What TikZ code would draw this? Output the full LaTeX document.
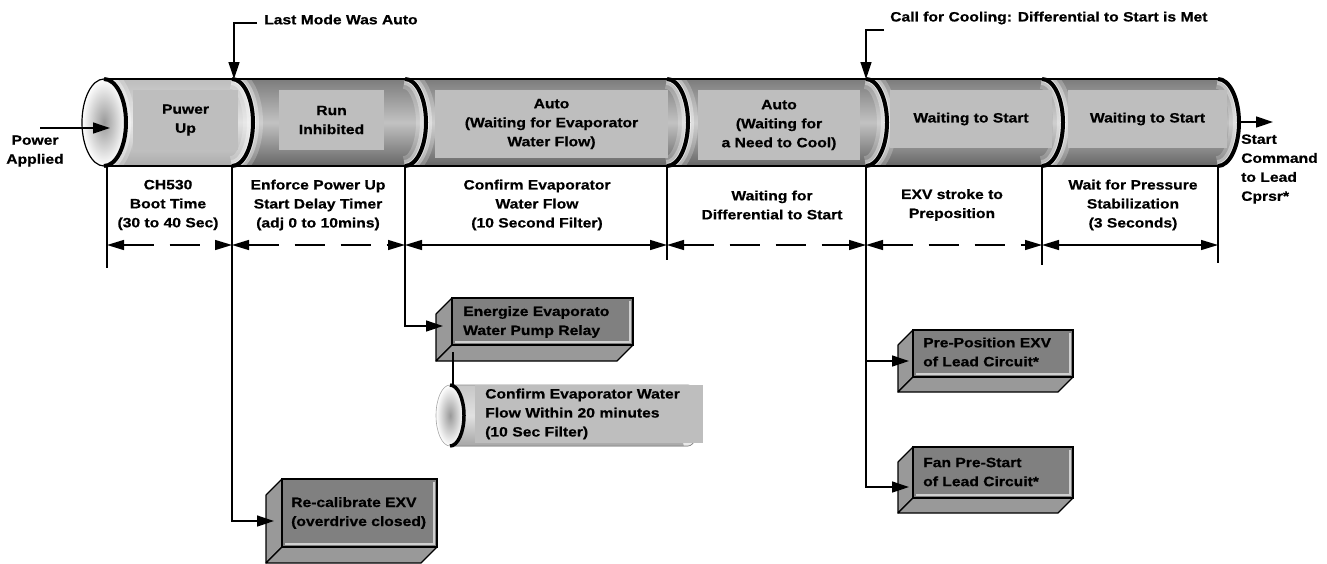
\documentclass[tikz,border=0pt]{standalone}
\usepackage{fontspec}
\newfontfamily\lbl[FakeStretch=1.16,BoldFeatures={FakeBold=0.6}]{Liberation Sans}
\usetikzlibrary{arrows.meta}
\definecolor{segtop}{HTML}{7C7C7C}
\definecolor{segmid}{HTML}{C2C2C2}
\definecolor{segbot}{HTML}{666666}
\definecolor{segatop}{HTML}{BDBDBD}
\definecolor{segamid}{HTML}{E2E2E2}
\definecolor{segabot}{HTML}{ABABAB}
\definecolor{lblbg}{HTML}{BEBEBE}
\definecolor{frontface}{HTML}{808080}
\definecolor{sideface}{HTML}{999999}
\definecolor{bevel}{HTML}{D0D0D0}
\tikzset{
  txt/.style={font=\lbl\bfseries\fontsize{13.5}{19}\selectfont, inner sep=0pt, align=center},
  ltxt/.style={txt, align=left, anchor=west},
  lblrect/.style={txt, fill=lblbg},
  conn/.style={line width=1.3pt, draw=black},
  arr/.style={conn, -{Triangle[length=17pt,width=11pt]}},
  dimsolid/.style={line width=1.3pt, {Triangle[length=17pt,width=10pt]}-{Triangle[length=17pt,width=10pt]}},
  dimdash/.style={dimsolid, dash pattern=on 30pt off 16pt},
  segfill/.style={shading=axis, top color=segtop, bottom color=segbot, middle color=segmid},
  segafill/.style={shading=axis, top color=segatop, bottom color=segabot, middle color=segamid},
  glowa/.style={white, line width=20pt, opacity=.22},
  glowb/.style={white, line width=12pt, opacity=.35},
  glowc/.style={white, line width=6pt, opacity=.5},
  thickarc/.style={black, line width=4pt},
}
\newcommand\tdbox[5]{% x1 y1 x2 y2 depth
  \filldraw[fill=sideface, draw=black, line width=1.2pt, line join=round]
    (#1,#2) -- ({#1-#5},{#2+#5}) -- ({#1-#5},{#4+#5}) -- (#1,#4) -- cycle;
  \filldraw[fill=sideface, draw=black, line width=1.2pt, line join=round]
    (#1,#4) -- (#3,#4) -- ({#3-#5},{#4+#5}) -- ({#1-#5},{#4+#5}) -- cycle;
  \filldraw[fill=frontface, draw=black, line width=1.2pt] (#1,#2) rectangle (#3,#4);
  \draw[bevel, line width=1.5pt] ({#1+3},{#4-3}) -- ({#3-3},{#4-3}) -- ({#3-3},{#2+3});
}
\begin{document}
\begin{tikzpicture}[x=1pt,y=-1pt]
\useasboundingbox (0,0) rectangle (1327,563);

% ---------- main pipe ----------
\fill[segafill] (104,79) -- (232,79) .. controls (243.6,79) and (253,98.5) .. (253,122.5)
   .. controls (253,146.5) and (243.6,166) .. (232,166) -- (104,166) -- cycle;
\foreach \a/\b in {232/405,405/667,667/866,866/1042,1042/1218}{
  \fill[segfill] (\a,79) -- (\b,79) .. controls ({\b+11.6},79) and ({\b+21},98.5) .. ({\b+21},122.5)
   .. controls ({\b+21},146.5) and ({\b+11.6},166) .. (\b,166) -- (\a,166)
   .. controls ({\a+11.6},166) and ({\a+21},146.5) .. ({\a+21},122.5)
   .. controls ({\a+21},98.5) and ({\a+11.6},79) .. (\a,79) -- cycle;
}
\begin{scope}
  \clip (104,79) -- (1218,79) .. controls (1229.6,79) and (1239,98.5) .. (1239,122.5)
   .. controls (1239,146.5) and (1229.6,166) .. (1218,166) -- (104,166) -- cycle;
  \foreach \b in {104,232,405,667,866,1042,1218}{
    \foreach \g in {glowa,glowb,glowc}{
      \draw[\g] (\b,79) .. controls ({\b+11.6},79) and ({\b+21},98.5) .. ({\b+21},122.5)
        .. controls ({\b+21},146.5) and ({\b+11.6},166) .. (\b,166);
    }
  }
\end{scope}

% label panels inside the pipe
\node[lblrect, minimum width=105, minimum height=60] (pu) at (185.5,120) {Puwer\\Up};
\node[lblrect, minimum width=105, minimum height=60] (ri) at (331.5,120) {Run\\Inhibited};
\node[lblrect, minimum width=233, minimum height=68] (aa) at (551.5,124) {Auto\\(Waiting for Evaporator\\Water Flow)};
\node[lblrect, minimum width=162, minimum height=70] (ab) at (779,125) {Auto\\(Waiting for\\a Need to Cool)};
\node[lblrect, minimum width=162, minimum height=58] (wa) at (971,119) {Waiting to Start};
\node[lblrect, minimum width=159, minimum height=58] (wb) at (1147.5,119) {Waiting to Start};

% segment boundary arcs
\foreach \b in {232,405,667,866,1042,1218}{
  \draw[thickarc] (\b,79) .. controls ({\b+11.6},79) and ({\b+21},98.5) .. ({\b+21},122.5)
     .. controls ({\b+21},146.5) and ({\b+11.6},166) .. (\b,166);
}
\draw[black, line width=1.6pt] (104,79) -- (1218,79);
\draw[black, line width=1.6pt] (104,166) -- (1218,166);

% left end cap
\shade[inner color=black!40, outer color=white] (104,122.5) ellipse [x radius=22, y radius=43.5];
\draw[black, line width=1.2pt] (104,122.5) ellipse [x radius=22, y radius=43.5];
\draw[thickarc] (104,79) .. controls (116.15,79) and (126,98.5) .. (126,122.5)
   .. controls (126,146.5) and (116.15,166) .. (104,166);

% ---------- coordinates ----------
\coordinate (b0) at (107,166);
\coordinate (b1t) at (234,79);
\coordinate (b1) at (232,166);
\coordinate (b2) at (405,166);
\coordinate (b3) at (667,166);
\coordinate (b4t) at (866,79);
\coordinate (b4) at (866,166);
\coordinate (b5) at (1042,166);
\coordinate (b6) at (1218,166);
\coordinate (e0) at (107,268);
\coordinate (e3) at (667,260);
\coordinate (e5) at (1042,265);
\coordinate (e6) at (1218,263);
\coordinate (d0) at (107,245);
\coordinate (d1) at (232,245);
\coordinate (d2) at (405,245);
\coordinate (d3) at (667,245);
\coordinate (d4) at (866,245);
\coordinate (d5) at (1042,245);
\coordinate (d6) at (1218,245);

% ---------- top annotations ----------
\node[ltxt] (lastmode) at (264,19.5) {Last Mode Was Auto};
\coordinate (lm0) at (257,23);
\draw[arr] (lm0) -| (b1t);
\node[ltxt] (callcool) at (890,18) {Call for Cooling: Differential to Start is Met};
\coordinate (cc0) at (884,30);
\draw[arr] (cc0) -| (b4t);

\node[txt] (powerapp) at (35,151) {Power\\Applied};
\coordinate (pa0) at (40,128);
\coordinate (pa1) at (110,128);
\draw[arr] (pa0) -- (pa1);

\node[ltxt] (startcmd) at (1241,169) {Start\\Command\\to Lead\\Cprsr*};
\coordinate (sc0) at (1240,122);
\coordinate (sc1) at (1273,122);
\draw[arr] (sc0) -- (sc1);

% ---------- lower texts ----------
\node[txt] (ch) at (168,205) {CH530\\Boot Time\\(30 to 40 Sec)};
\node[txt] (enf) at (318,205) {Enforce Power Up\\Start Delay Timer\\(adj 0 to 10mins)};
\node[txt] (cef) at (537,205) {Confirm Evaporator\\Water Flow\\(10 Second Filter)};
\node[txt] (wdiff) at (772,205) {Waiting for\\Differential to Start};
\node[txt] (exv) at (952,205) {EXV stroke to\\Preposition};
\node[txt] (wps) at (1133,205) {Wait for Pressure\\Stabilization\\(3 Seconds)};

% vertical lines
\draw[conn] (b0) -- (e0);
\draw[conn] (b3) -- (e3);
\draw[conn] (b5) -- (e5);
\draw[conn] (b6) -- (e6);

% dimension arrows
\draw[dimdash] (d0) -- (d1);
\draw[dimdash] (d1) -- (d2);
\draw[dimsolid] (d2) -- (d3);
\draw[dimdash] (d3) -- (d4);
\draw[dimdash] (d4) -- (d5);
\draw[dimsolid] (d5) -- (d6);

% ---------- 3D boxes ----------
\tdbox{452}{298}{633}{345}{16}
\node[ltxt] (energize) at (463,322) {Energize Evaporato\\Water Pump Relay};
\tdbox{282}{479}{437}{547}{16}
\node[ltxt] (recal) at (291,513) {Re-calibrate EXV\\(overdrive closed)};
\tdbox{913}{330}{1073}{377}{15}
\node[ltxt] (prepos) at (923,352) {Pre-Position EXV\\of Lead Circuit*};
\tdbox{913}{447}{1073}{498}{15}
\node[ltxt] (fan) at (923,472) {Fan Pre-Start\\of Lead Circuit*};

\coordinate (enin) at (443,326);
\coordinate (recin) at (274,521);
\coordinate (ppin) at (909,361);
\coordinate (fanin) at (909,487);
\coordinate (br1) at (866,361);
\draw[arr] (b2) |- (enin);
\draw[arr] (b1) |- (recin);
\draw[arr] (b4) |- (fanin);
\draw[arr] (br1) -- (ppin);

% ---------- small cylinder ----------
\fill[shading=axis, top color=black!22, bottom color=black!35, middle color=black!12]
  (450,385) -- (688,385) .. controls (694.6,385) and (700,398.7) .. (700,415.5)
  .. controls (700,432.3) and (694.6,446) .. (688,446) -- (450,446) -- cycle;
\begin{scope}
  \clip (450,385) -- (688,385) .. controls (694.6,385) and (700,398.7) .. (700,415.5)
  .. controls (700,432.3) and (694.6,446) .. (688,446) -- (450,446) -- cycle;
  \foreach \g in {glowa,glowb,glowc}{
    \draw[\g] (684,385) .. controls (690.6,385) and (696,398.7) .. (696,415.5)
      .. controls (696,432.3) and (690.6,446) .. (684,446);
  }
\end{scope}
\draw[black!45, line width=0.8pt]
  (450,385) -- (688,385) .. controls (694.6,385) and (700,398.7) .. (700,415.5)
  .. controls (700,432.3) and (694.6,446) .. (688,446) -- (450,446);
\node[ltxt, fill=lblbg, minimum width=218, minimum height=58, text width=208, inner xsep=10pt, anchor=west] (cyltext) at (475,414) {Confirm Evaporator Water\\Flow Within 20 minutes\\(10 Sec Filter)};
\shade[inner color=black!40, outer color=white] (450,415.5) ellipse [x radius=14, y radius=30.5];
\draw[black!35, line width=0.6pt] (450,415.5) ellipse [x radius=14, y radius=30.5];
\draw[black, line width=3.5pt] (450,385) .. controls (457.7,385) and (464,398.7) .. (464,415.5)
  .. controls (464,432.3) and (457.7,446) .. (450,446);

\coordinate (enbot) at (453,352);
\coordinate (cyltop) at (453,385);
\draw[conn] (enbot) -- (cyltop);
\end{tikzpicture}
\end{document}
